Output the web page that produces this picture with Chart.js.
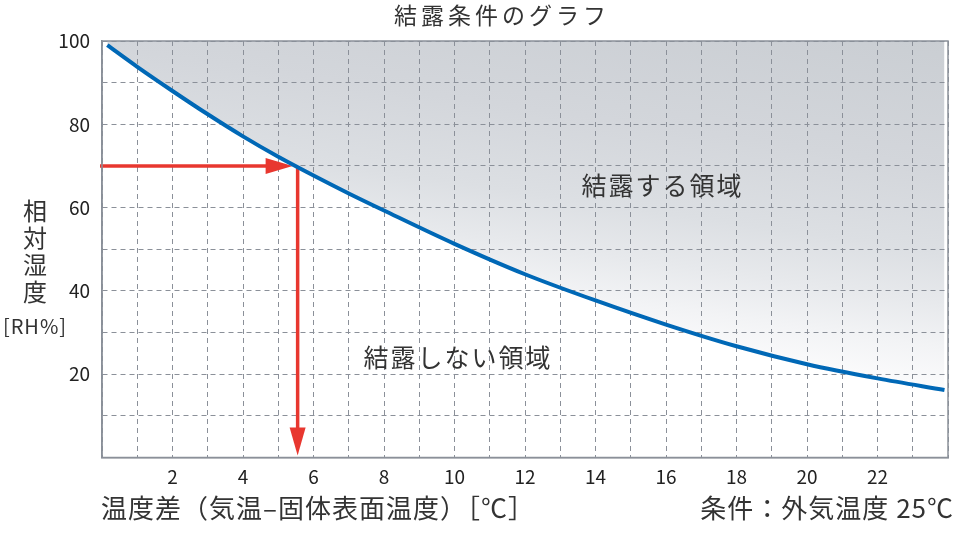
<!DOCTYPE html>
<html lang="ja">
<head>
<meta charset="utf-8">
<title>結露条件のグラフ</title>
<script src="https://cdn.jsdelivr.net/npm/chart.js@4.4.0/dist/chart.umd.min.js"></script>
<style>
  html, body { margin: 0; padding: 0; background: #fff; }
  #wrap { width: 956px; height: 547px; position: relative; }
</style>
</head>
<body>
<div id="wrap"><canvas id="grafico" width="956" height="547"></canvas></div>
<script>
// 温度差 [℃] と 相対湿度 [RH%]
const temperatureDiff = [0.15, 1, 2, 3, 4, 5, 6, 7, 8, 10, 12, 14, 16, 18, 20, 22, 23.9];
const relativeHumidity = [99, 93.8, 88.0, 82.4, 77.1, 72.2, 67.7, 63.4, 59.3, 51.3, 44.0, 37.7, 31.9, 26.7, 22.4, 19.0, 16.2];

// 読み取り例（矢印）
const exampleDiff = 5.55;
const exampleHumidity = 70;

const xTickLabels = [2, 4, 6, 8, 10, 12, 14, 16, 18, 20, 22];
const yTickLabels = [20, 40, 60, 80, 100];

const FONT = "'Noto Sans CJK JP', 'Noto Sans', sans-serif";
const TEXT = '#333333';
const GRID = '#8b9099';

const puntos = temperatureDiff.map((t, i) => ({ x: t, y: relativeHumidity[i] }));

const degradado = (context) => {
  const area = context.chart.chartArea;
  if (!area) return 'rgba(0,0,0,0)';
  const g = context.chart.ctx.createLinearGradient(area.right, area.top, area.right - 60, area.bottom);
  g.addColorStop(0, '#caced3');
  g.addColorStop(0.3, '#d3d6db');
  g.addColorStop(0.5, '#dcdfe3');
  g.addColorStop(0.62, '#e7e9ec');
  g.addColorStop(0.72, '#f2f3f5');
  g.addColorStop(0.82, '#fbfbfc');
  g.addColorStop(1, '#ffffff');
  return g;
};

// 赤い矢印
const arrowPlugin = {
  id: 'flechas',
  beforeDatasetsDraw(chart) {
    const { ctx, scales: { x, y } } = chart;
    const px = x.getPixelForValue(exampleDiff);
    const py = y.getPixelForValue(exampleHumidity);
    const left = x.getPixelForValue(x.min) - 2;
    const bottom = y.getPixelForValue(y.min) - 2;
    ctx.save();
    ctx.strokeStyle = '#e8372f';
    ctx.fillStyle = '#e8372f';
    ctx.lineWidth = 3.5;
    // horizontal
    ctx.beginPath();
    ctx.moveTo(left, py);
    ctx.lineTo(px - 30, py);
    ctx.stroke();
    ctx.beginPath();
    ctx.moveTo(px - 5, py);
    ctx.lineTo(px - 32, py - 8);
    ctx.lineTo(px - 32, py + 8);
    ctx.closePath();
    ctx.fill();
    // vertical
    ctx.beginPath();
    ctx.moveTo(px, py);
    ctx.lineTo(px, bottom - 25);
    ctx.stroke();
    ctx.beginPath();
    ctx.moveTo(px, bottom);
    ctx.lineTo(px - 8, bottom - 28);
    ctx.lineTo(px + 8, bottom - 28);
    ctx.closePath();
    ctx.fill();
    ctx.restore();
  }
};

const textPlugin = {
  id: 'textos',
  afterDraw(chart) {
    const { ctx, chartArea: a, scales: { x, y } } = chart;
    ctx.save();
    ctx.fillStyle = TEXT;
    ctx.textBaseline = 'middle';

    // 枠線
    ctx.strokeStyle = GRID;
    ctx.lineWidth = 1.5;
    ctx.strokeRect(a.left, a.top, a.right - a.left, a.bottom - a.top);

    // タイトル
    ctx.textAlign = 'center';
    ctx.font = `23px ${FONT}`;
    ctx.letterSpacing = '4px';
    ctx.fillText('結露条件のグラフ', 502, 15);

    // 縦軸タイトル
    ctx.font = `24px ${FONT}`;
    ctx.letterSpacing = '0px';
    ['相', '対', '湿', '度'].forEach((c, i) => ctx.fillText(c, 35, 211 + i * 27));
    ctx.font = `20px ${FONT}`;
    ctx.letterSpacing = '1px';
    ctx.fillText('[RH%]', 35, 326);

    // 領域ラベル
    ctx.font = `25px ${FONT}`;
    ctx.letterSpacing = '2px';
    ctx.fillText('結露する領域', x.getPixelForValue(15.9), y.getPixelForValue(65.4));
    ctx.fillText('結露しない領域', x.getPixelForValue(10.1), y.getPixelForValue(23.9));

    // 横軸タイトル・条件
    ctx.font = `26px ${FONT}`;
    ctx.letterSpacing = '1px';
    ctx.textAlign = 'left';
    ctx.fillText('温度差（気温–固体表面温度）［℃］', 101, 508);
    ctx.textAlign = 'right';
    ctx.fillText('条件：外気温度 25℃', 954, 508);
    ctx.restore();
  }
};

const config = {
  type: 'line',
  data: {
    datasets: [{
      data: puntos,
      borderColor: '#0068b6',
      borderWidth: 4,
      pointRadius: 0,
      cubicInterpolationMode: 'monotone',
      fill: 'end',
      backgroundColor: degradado
    }]
  },
  options: {
    responsive: false,
    animation: false,
    devicePixelRatio: 1,
    layout: { padding: { top: 41, right: 8, left: 0, bottom: 0 } },
    plugins: {
      legend: { display: false },
      tooltip: { enabled: false },
      filler: { drawTime: 'beforeDraw' }
    },
    scales: {
      x: {
        type: 'linear',
        min: 0,
        max: 24,
        afterFit: (scale) => { scale.height = 89.5; },
        grid: { color: GRID, lineWidth: 1, drawTicks: false },
        border: { color: GRID, width: 1.5, dash: [5, 4] },
        ticks: {
          stepSize: 1,
          autoSkip: false,
          maxRotation: 0,
          padding: 8,
          color: '#222',
          font: { family: FONT, size: 19 },
          callback: (v) => xTickLabels.includes(v) ? String(v) : ''
        }
      },
      y: {
        min: 0,
        max: 100,
        afterFit: (scale) => { scale.width = 102; },
        grid: { color: GRID, lineWidth: 1, drawTicks: false },
        border: { color: GRID, width: 1.5, dash: [5, 4] },
        ticks: {
          stepSize: 10,
          padding: 12,
          color: '#222',
          font: { family: FONT, size: 19 },
          callback: (v) => yTickLabels.includes(v) ? String(v) : ''
        }
      }
    }
  },
  plugins: [arrowPlugin, textPlugin]
};

new Chart(document.getElementById('grafico').getContext('2d'), config);
</script>
</body>
</html>
